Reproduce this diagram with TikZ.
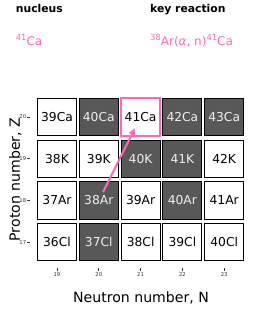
\documentclass[tikz,border=0pt]{standalone}
\usepackage{fontspec}
\setmainfont{DejaVu Sans}
\usetikzlibrary{arrows.meta}
\definecolor{hpink}{HTML}{FF69B4}
\definecolor{dbox}{HTML}{585858}
\definecolor{ltext}{HTML}{EEEEEE}
\definecolor{tickc}{HTML}{333333}
\newcommand{\supnum}[1]{\raisebox{0.42em}{\fontsize{8.4}{9}\selectfont #1}}
\begin{document}
\begin{tikzpicture}[x=1pt,y=-1pt,
  nuc/.style={draw=black,line width=0.9pt,minimum width=39pt,minimum height=37.5pt,
    inner sep=0pt,font=\fontsize{12.3}{14}\selectfont,anchor=center},
  stab/.style={nuc,fill=dbox,text=ltext},
  unst/.style={nuc,fill=white,text=black},
  keybox/.style={nuc,fill=white,text=black,draw=hpink,line width=2.2pt},
  ticklab/.style={font=\fontsize{5.3}{6}\selectfont,inner sep=0pt,text=tickc},
  tickmark/.style={draw=tickc,line width=0.6pt},
  title/.style={font=\fontsize{10.8}{12}\selectfont\bfseries,anchor=base west,inner sep=0pt},
  pinktxt/.style={font=\fontsize{12}{14}\selectfont,text=hpink,anchor=base west,inner sep=0pt},
  axlab/.style={font=\fontsize{14.1}{16}\selectfont,inner sep=0pt,anchor=base}]
\useasboundingbox (0,0) rectangle (254,309);

% titles
\node[title] (tnuc) at (15.7,12.3) {nucleus};
\node[title] (treac) at (150,12.3) {key reaction};
\node[pinktxt] (pnuc) at (15.7,45.7) {\supnum{41}Ca};
\node[pinktxt] (preac) at (150,45.7) {\supnum{38}Ar({\itshape α}, n)\supnum{41}Ca};

% Z = 20
\node[unst]   (n39Ca) at (57,117) {39Ca};
\node[stab]   (n40Ca) at (98.8,117) {40Ca};
\node[keybox] (n41Ca) at (140.6,117) {41Ca};
\node[stab]   (n42Ca) at (182.4,117) {42Ca};
\node[stab]   (n43Ca) at (224.2,117) {43Ca};
% Z = 19
\node[unst] (n38K) at (57,158.7) {38K};
\node[unst] (n39K) at (98.8,158.7) {39K};
\node[stab] (n40K) at (140.6,158.7) {40K};
\node[stab] (n41K) at (182.4,158.7) {41K};
\node[unst] (n42K) at (224.2,158.7) {42K};
% Z = 18
\node[unst] (n37Ar) at (57,200.4) {37Ar};
\node[stab] (n38Ar) at (98.8,200.4) {38Ar};
\node[unst] (n39Ar) at (140.6,200.4) {39Ar};
\node[stab] (n40Ar) at (182.4,200.4) {40Ar};
\node[unst] (n41Ar) at (224.2,200.4) {41Ar};
% Z = 17
\node[unst] (n36Cl) at (57,242.1) {36Cl};
\node[stab] (n37Cl) at (98.8,242.1) {37Cl};
\node[unst] (n38Cl) at (140.6,242.1) {38Cl};
\node[unst] (n39Cl) at (182.4,242.1) {39Cl};
\node[unst] (n40Cl) at (224.2,242.1) {40Cl};

% reaction arrow
\draw[hpink,line width=2pt,shorten <=9.3pt,shorten >=12.5pt,
  -{Triangle[length=7pt,width=6.5pt]}] (n38Ar.center) -- (n41Ca.center);

% y ticks
\foreach \z/\yy in {20/117,19/158.7,18/200.4,17/242.1}{
  \node[ticklab,anchor=east] (yt\z) at (26.4,\yy) {\z};
  \draw[tickmark] (27.3,\yy) -- (30.3,\yy);
}
% x ticks
\foreach \nn/\xx in {19/57,20/98.8,21/140.6,22/182.4,23/224.2}{
  \draw[tickmark] (\xx,268.2) -- (\xx,270.8);
  \node[ticklab,anchor=north] (xt\nn) at (\xx,272.0) {\nn};
}

% axis labels
\node[axlab] (xlab) at (141,302) {Neutron number, N};
\node[axlab,rotate=90] (ylab) at (19.8,179.5) {Proton number, Z};
\end{tikzpicture}
\end{document}
